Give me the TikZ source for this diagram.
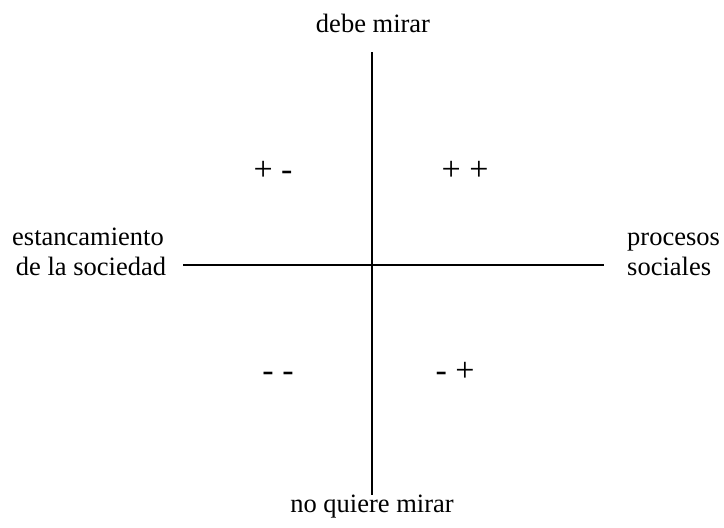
\documentclass[tikz,border=0pt]{standalone}
\usepackage{fontspec}
\setmainfont{Liberation Serif}
\begin{document}
\begin{tikzpicture}[x=1pt,y=-1pt,
  lbl/.style={inner sep=0pt,font=\fontsize{26.5}{30}\selectfont},
  sign/.style={inner sep=0pt,anchor=base,font=\fontsize{34}{36}\selectfont},
  axis/.style={line width=1.3pt,black}]
\useasboundingbox (0,0) rectangle (724,528);
\coordinate (top) at (372,52);
\coordinate (bot) at (372,495);
\coordinate (lft) at (183,265);
\coordinate (rgt) at (604,265);
\draw[axis] (top) -- (bot);
\draw[axis] (lft) -- (rgt);
\node[lbl,anchor=base] (debe) at (373,32) {debe mirar};
\node[lbl,anchor=base] (noq) at (372,512) {no quiere mirar};
\node[lbl,anchor=base] (est1) at (88,245) {estancamiento};
\node[lbl,anchor=base] (est2) at (91,275) {de la sociedad};
\node[lbl,anchor=base west] (pro1) at (627,245) {procesos};
\node[lbl,anchor=base west] (pro2) at (627,275) {sociales};
\node[sign] (pm) at (273,180) {+ -};
\node[sign] (pp) at (465,180) {+ +};
\node[sign] (mm) at (278,381) {- -};
\node[sign] (mp) at (455,381) {- +};
\end{tikzpicture}
\end{document}
